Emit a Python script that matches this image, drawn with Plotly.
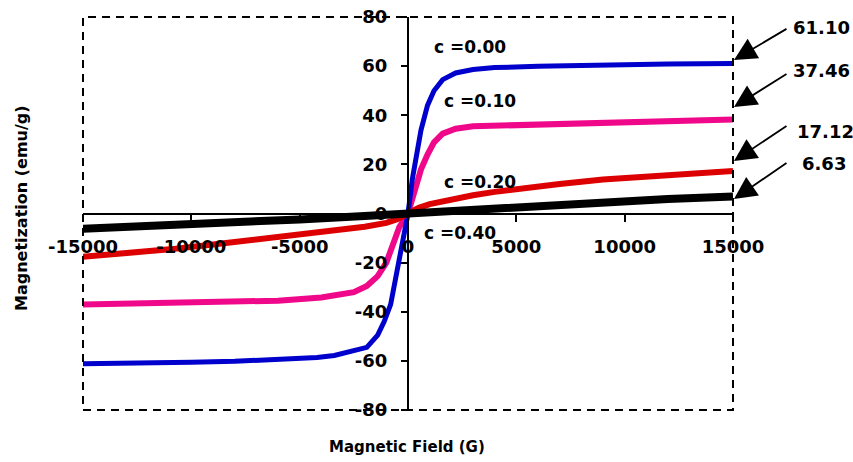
import plotly.graph_objects as go

# ---- data ----
blue_x = [-15000, -12000, -10000, -8000, -6000, -4200, -3400, -2500, -1900, -1400, -1100, -800, -600, -370, -180, 0,
          200, 400, 600, 900, 1200, 1600, 2200, 3000, 4000, 6000, 8000, 10000, 12000, 15000]
blue_y = [-61.2, -61.0, -60.6, -60.2, -59.6, -58.6, -57.8, -56.0, -54.5, -49.5, -44.0, -37.0, -28.0, -18.0, -9.0, 0.0,
          14.0, 25.0, 34.0, 44.0, 50.0, 54.5, 57.2, 58.6, 59.4, 59.9, 60.3, 60.6, 60.9, 61.1]

pink_x = [-15000, -10000, -6000, -4000, -2500, -1900, -1400, -1000, -700, -400, 0,
          200, 400, 600, 900, 1200, 1600, 2200, 3000, 5000, 8000, 10000, 13000, 15000]
pink_y = [-37.0, -36.3, -35.5, -34.2, -32.0, -29.5, -25.5, -20.0, -12.5, -5.5, 0.0,
          6.0, 12.0, 18.0, 24.0, 29.0, 32.5, 34.5, 35.5, 36.0, 36.6, 37.4, 38.0, 38.3]

red_x = [-15000, -13000, -11000, -9000, -7000, -5000, -3000, -2000, -1000, -500, 0,
         500, 1000, 2000, 3000, 4000, 5000, 7000, 9000, 11000, 13000, 15000]
red_y = [-17.6, -16.3, -14.6, -12.6, -10.6, -8.5, -6.6, -5.4, -3.8, -2.3, 0.0,
         2.3, 3.8, 5.8, 7.4, 8.8, 10.0, 12.0, 13.8, 15.0, 16.2, 17.3]

black_x = [-15000, -12000, -10000, -7000, -5000, -2000, 0, 2000, 5000, 7000, 10000, 12000, 15000]
black_y = [-6.2, -5.2, -4.4, -3.2, -2.4, -1.0, 0.0, 1.3, 2.9, 3.9, 5.0, 5.9, 6.9]

conc_labels = ["c =0.00", "c =0.10", "c =0.20", "c =0.40"]
end_values = ["61.10", "37.46", "17.12", "6.63"]

x_ticks = [-15000, -10000, -5000, 0, 5000, 10000, 15000]
y_ticks = [-80, -60, -40, -20, 0, 20, 40, 60, 80]

FONT = "DejaVu Sans"

# plot area in pixels (for converting annotation positions to paper coords)
L, R, T, B = 83, 733, 17, 410


def px(xp):
    return (xp - L) / (R - L)


def py(yp):
    return (B - yp) / (B - T)


fig = go.Figure()
fig.add_trace(go.Scatter(x=pink_x, y=pink_y, mode="lines", line=dict(color="#F0088A", width=6), showlegend=False))
fig.add_trace(go.Scatter(x=blue_x, y=blue_y, mode="lines", line=dict(color="#0000CC", width=5), showlegend=False))
fig.add_trace(go.Scatter(x=red_x, y=red_y, mode="lines", line=dict(color="#DD0000", width=6), showlegend=False))
fig.add_trace(go.Scatter(x=black_x, y=black_y, mode="lines", line=dict(color="black", width=8), showlegend=False))

# dashed frame
fig.add_shape(type="rect", xref="paper", yref="paper", x0=0, x1=1, y0=0, y1=1,
              line=dict(color="black", width=2, dash="8px,6px"))

# concentration labels
conc_pos = [(432, 47), (442, 101), (442, 182), (422, 233)]
for txt, (xp, yp) in zip(conc_labels, conc_pos):
    fig.add_annotation(x=px(xp), y=py(yp), xref="paper", yref="paper", text=txt, showarrow=False,
                       xanchor="left", yanchor="middle",
                       font=dict(family=FONT, size=17, color="black", weight="bold"))

# arrows and end values
tips = [(734, 60, 54, -32), (734, 107, 54, -34), (734, 161, 54, -36), (734, 199, 54, -37)]
for (xp, yp, ax, ay) in tips:
    fig.add_annotation(x=px(xp), y=py(yp), xref="paper", yref="paper", ax=ax, ay=ay,
                       axref="pixel", ayref="pixel",
                       text="", showarrow=True, arrowhead=2, arrowsize=2.5, arrowwidth=1.8,
                       arrowcolor="black")
val_pos = [(791, 27), (791, 70), (795, 131), (800, 163)]
for txt, (xp, yp) in zip(end_values, val_pos):
    fig.add_annotation(x=px(xp), y=py(yp), xref="paper", yref="paper", text=txt, showarrow=False,
                       xanchor="left", yanchor="middle",
                       font=dict(family=FONT, size=18, color="black", weight="bold"))

# axis titles
fig.add_annotation(x=px(22), y=py(208), xref="paper", yref="paper", text="Magnetization (emu/g)",
                   showarrow=False, textangle=-90, xanchor="center", yanchor="middle",
                   font=dict(family=FONT, size=16, color="black", weight="bold"))
fig.add_annotation(x=px(407), y=py(447), xref="paper", yref="paper",
                   text="Magnetic Field (G)", showarrow=False, xanchor="center", yanchor="middle",
                   font=dict(family=FONT, size=15, color="black", weight="bold"))

fig.update_layout(
    width=853, height=462,
    margin=dict(l=L, r=853 - R, t=T, b=462 - B, autoexpand=False),
    paper_bgcolor="white", plot_bgcolor="white",
    font=dict(family=FONT, size=18, color="black", weight="bold"),
    xaxis=dict(range=[-15000, 15000], tickvals=x_ticks, ticktext=[str(v) for v in x_ticks],
               showgrid=False, zeroline=False, showline=True, linecolor="black", linewidth=2,
               ticks="outside", ticklen=7, tickwidth=2, tickcolor="black",
               anchor="free", position=0.5, ticklabelstandoff=10, automargin=False,
               tickfont=dict(family=FONT, size=18, color="black", weight="bold")),
    yaxis=dict(range=[-80, 80], tickvals=y_ticks, ticktext=[str(v) for v in y_ticks],
               showgrid=False, zeroline=False, showline=True, linecolor="black", linewidth=2,
               ticks="outside", ticklen=6, tickwidth=2, tickcolor="black",
               anchor="free", position=0.5, ticklabelstandoff=10, automargin=False,
               tickfont=dict(family=FONT, size=18, color="black", weight="bold")),
    hovermode=False,
)

fig.write_html("out.html", config={"displayModeBar": False},
               post_script="document.body.style.margin='0px';document.body.style.overflow='hidden';")
